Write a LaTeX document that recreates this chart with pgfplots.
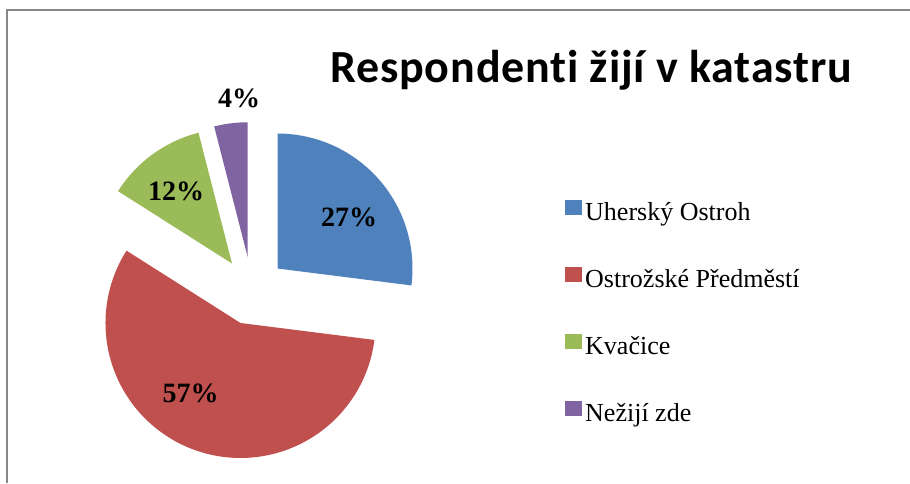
\documentclass[border=0pt]{standalone}
\usepackage{fontspec}
\setmainfont{Liberation Serif}
\newfontfamily\titlefont[Ligatures=NoCommon, LetterSpace=1.8]{Carlito}
\usepackage{pgfplots}
\pgfplotsset{compat=1.18}

\definecolor{cA}{HTML}{4F81BD}
\definecolor{cB}{HTML}{C0504D}
\definecolor{cC}{HTML}{9BBB59}
\definecolor{cD}{HTML}{8064A2}
\definecolor{frame}{HTML}{868686}

% shares in percent
\def\pA{27}\def\pB{57}\def\pC{12}\def\pD{4}
% pie centre, radius and explosion (px of the 910x483 canvas)
\def\cx{252}\def\cy{192}\def\rr{135}\def\ex{34}
\pgfmathsetmacro\aA{90}
\pgfmathsetmacro\aB{\aA-3.6*\pA}
\pgfmathsetmacro\aC{\aB-3.6*\pB}
\pgfmathsetmacro\aD{\aC-3.6*\pC}
\pgfmathsetmacro\aE{\aD-3.6*\pD}
\pgfmathsetmacro\xA{\cx+\ex*cos((\aA+\aB)/2)}\pgfmathsetmacro\yA{\cy+\ex*sin((\aA+\aB)/2)}
\pgfmathsetmacro\xB{\cx+\ex*cos((\aB+\aC)/2)}\pgfmathsetmacro\yB{\cy+\ex*sin((\aB+\aC)/2)}
\pgfmathsetmacro\xC{\cx+\ex*cos((\aC+\aD)/2)}\pgfmathsetmacro\yC{\cy+\ex*sin((\aC+\aD)/2)}
\pgfmathsetmacro\xD{\cx+\ex*cos((\aD+\aE)/2)}\pgfmathsetmacro\yD{\cy+\ex*sin((\aD+\aE)/2)}

\begin{document}
\begin{tikzpicture}
\begin{axis}[
  width=910pt, height=483pt, scale only axis,
  xmin=0, xmax=910, ymin=0, ymax=483,
  hide axis,
  legend style={at={(axis cs:565,283)}, anchor=north west, draw=none, fill=none,
    inner sep=0pt, row sep=41pt, column sep=3pt,
    font=\fontsize{26}{30}\selectfont,
    nodes={inner sep=0pt, text height=18pt, text depth=6pt}},
  legend cell align=left,
  legend image code/.code={\fill[#1] (0pt,-1pt) rectangle (17pt,14pt);},
]
\draw[frame, line width=1.4pt] (7,0) -- (7,473) -- (910,473);

\addplot[fill=cA, draw=none, domain=\aB:\aA, samples=90, variable=\t]
  ({\xA+\rr*cos(\t)},{\yA+\rr*sin(\t)}) -- (axis cs:\xA,\yA) -- cycle;
\addlegendentry{Uherský Ostroh}
\addplot[fill=cB, draw=none, domain=\aC:\aB, samples=160, variable=\t]
  ({\xB+\rr*cos(\t)},{\yB+\rr*sin(\t)}) -- (axis cs:\xB,\yB) -- cycle;
\addlegendentry{Ostrožské Předměstí}
\addplot[fill=cC, draw=none, domain=\aD:\aC, samples=40, variable=\t]
  ({\xC+\rr*cos(\t)},{\yC+\rr*sin(\t)}) -- (axis cs:\xC,\yC) -- cycle;
\addlegendentry{Kvačice}
\addplot[fill=cD, draw=none, domain=\aE:\aD, samples=20, variable=\t]
  ({\xD+\rr*cos(\t)},{\yD+\rr*sin(\t)}) -- (axis cs:\xD,\yD) -- cycle;
\addlegendentry{Nežijí zde}

\node[font=\fontsize{28}{30}\selectfont\bfseries] at (axis cs:349,265.5) {27\%};
\node[font=\fontsize{28}{30}\selectfont\bfseries] at (axis cs:190.5,89.5) {57\%};
\node[font=\fontsize{28}{30}\selectfont\bfseries] at (axis cs:176,291.5) {12\%};
\node[font=\fontsize{28}{30}\selectfont\bfseries] at (axis cs:239,385) {4\%};

\node[font=\titlefont\fontsize{46}{50}\selectfont\bfseries, anchor=base west, inner sep=0pt]
  at (axis cs:330,400) {Respondenti žijí v katastru};
\end{axis}
\pgfresetboundingbox
\useasboundingbox (current axis.south west) rectangle (current axis.north east);
\end{tikzpicture}
\end{document}
